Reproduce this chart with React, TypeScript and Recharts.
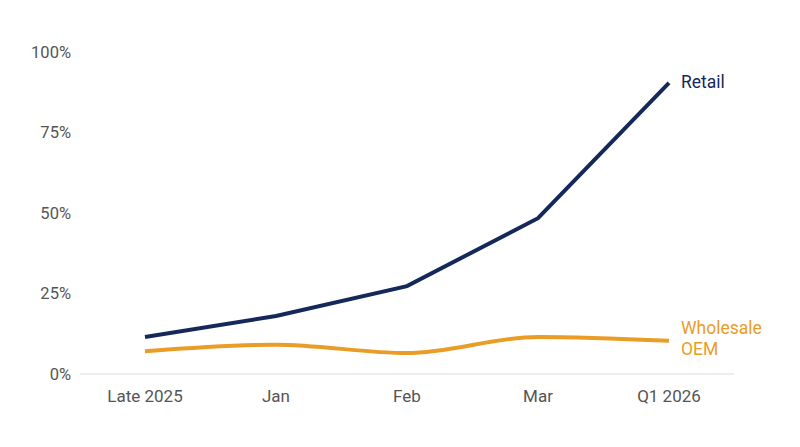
import { LineChart, Line, XAxis, YAxis } from 'recharts'

const PERIODS = ['Late 2025', 'Jan', 'Feb', 'Mar', 'Q1 2026']
const RETAIL = [11.5, 18, 27.3, 48.4, 90.4]
const WHOLESALE = [7.1, 9.1, 6.5, 11.5, 10.3]
const Y_TICKS = [0, 25, 50, 75, 100]

const NAVY = '#14295a'
const ORANGE = '#e99d26'

const data = PERIODS.map((p, i) => ({ period: p, retail: RETAIL[i], wholesale: WHOLESALE[i] }))

const endLabel = (lines: string[], color: string, dy: number) => (props: any) => {
  const { x, y, index } = props
  if (index !== PERIODS.length - 1) return null
  return (
    <text x={x + 12} y={y + dy} fill={color} fontSize={17.5} fontFamily="Roboto, sans-serif">
      {lines.map((l, i) => (
        <tspan key={i} x={x + 12} dy={i === 0 ? 0 : 21}>{l}</tspan>
      ))}
    </text>
  )
}

export default function App() {
  return (
    <div style={{ position: 'absolute', left: 0, top: 0, width: 800, height: 447, background: '#fff' }}>
      <LineChart width={800} height={447} data={data} margin={{ top: 52, right: 66, bottom: 40, left: 0 }}>
        <XAxis
          dataKey="period"
          padding={{ left: 65, right: 65 }}
          axisLine={{ stroke: '#dddddd' }}
          tickLine={false}
          tick={{ fontSize: 17, fill: '#555', fontFamily: 'Roboto, sans-serif' }}
          tickMargin={10}
          height={33}
        />
        <YAxis
          domain={[0, 100]}
          ticks={Y_TICKS}
          tickFormatter={v => `${v}%`}
          axisLine={false}
          tickLine={false}
          tick={{ fontSize: 16.5, fill: '#555', fontFamily: 'Roboto, sans-serif' }}
          width={80}
          tickMargin={3}
        />
        <Line
          type="linear"
          dataKey="retail"
          stroke={NAVY}
          strokeWidth={4}
          dot={false}
          isAnimationActive={false}
          label={endLabel(['Retail'], NAVY, 5)}
        />
        <Line
          type="monotone"
          dataKey="wholesale"
          stroke={ORANGE}
          strokeWidth={4}
          dot={false}
          isAnimationActive={false}
          label={endLabel(['Wholesale', 'OEM'], ORANGE, -7)}
        />
      </LineChart>
    </div>
  )
}
